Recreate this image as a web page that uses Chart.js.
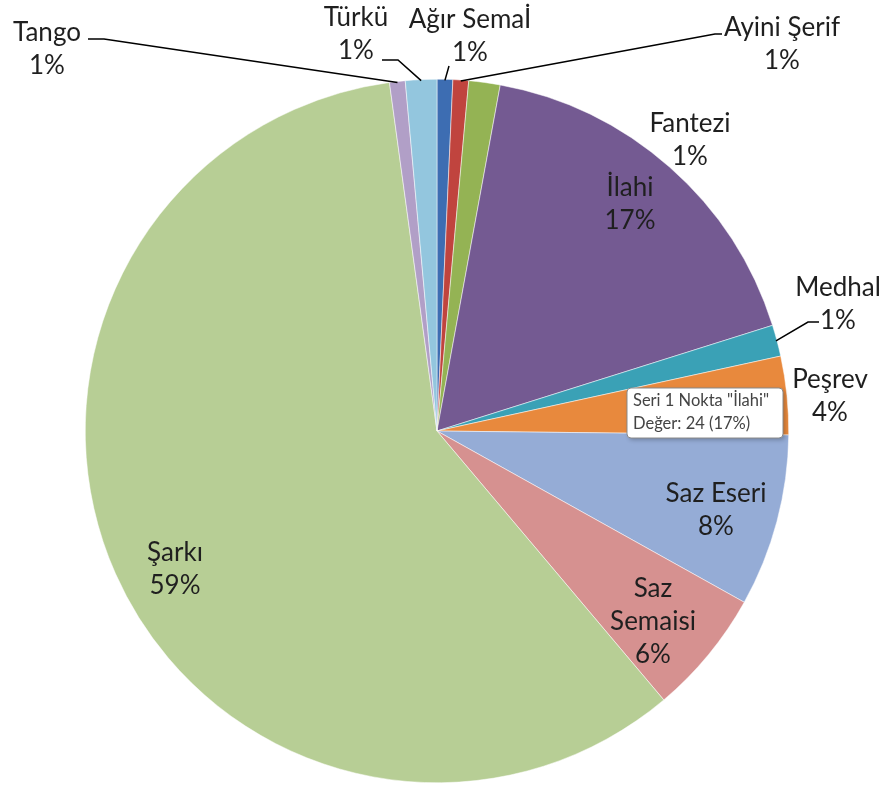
<!DOCTYPE html>
<html>
<head>
<meta charset="utf-8">
<script src="https://cdn.jsdelivr.net/npm/chart.js@4/dist/chart.umd.min.js"></script>
<style>
  html, body { margin: 0; padding: 0; background: #ffffff; }
  #wrap { width: 891px; height: 785px; position: relative; }
</style>
</head>
<body>
<div id="wrap"><canvas id="pieChart" width="891" height="785"></canvas></div>
<script>
// dados do gráfico
const categorias = ['Ağır Semaİ', 'Ayini Şerif', 'Fantezi', 'İlahi', 'Medhal', 'Peşrev', 'Saz Eseri', 'Saz Semaisi', 'Şarkı', 'Tango', 'Türkü'];
const valores = [1, 1, 2, 24, 2, 5, 11, 8, 82, 1, 2];
const cores = ['#3d6db2', '#c0443e', '#94b354', '#745a92', '#3aa1b6', '#e8893d', '#95acd6', '#d69190', '#b7ce95', '#b19fc7', '#93c6de'];

// posição dos rótulos (linhas de texto), e início da linha de chamada quando existe
const rotulos = [
  { linhas: ['Ağır Semaİ', '1%'], x: 470, y: 20, linha: [[449, 66]] },
  { linhas: ['Ayini Şerif', '1%'], x: 782, y: 28, linha: [[722, 34], [715, 34]] },
  { linhas: ['Fantezi', '1%'], x: 690, y: 124 },
  { linhas: ['İlahi', '17%'], x: 630, y: 188 },
  { linhas: ['Medhal', '1%'], x: 838, y: 288, linha: [[819, 322], [808, 322]] },
  { linhas: ['Peşrev', '4%'], x: 830, y: 380 },
  { linhas: ['Saz Eseri', '8%'], x: 716, y: 494 },
  { linhas: ['Saz', 'Semaisi', '6%'], x: 653, y: 589 },
  { linhas: ['Şarkı', '59%'], x: 175, y: 553 },
  { linhas: ['Tango', '1%'], x: 47, y: 33, linha: [[88, 39], [104, 39]] },
  { linhas: ['Türkü', '1%'], x: 356, y: 18, linha: [[382, 60], [398, 60]] },
];

const fonte = 'Lato, "Open Sans", sans-serif';

// plugin que desenha rótulos, linhas de chamada e a caixa de dica
const rotulosPlugin = {
  id: 'rotulos',
  afterDatasetsDraw(chart) {
    const ctx = chart.ctx;
    const arcos = chart.getDatasetMeta(0).data;
    ctx.save();
    ctx.font = '26px ' + fonte;
    ctx.textAlign = 'center';
    ctx.textBaseline = 'middle';
    rotulos.forEach((r, i) => {
      ctx.fillStyle = '#1f1f1f';
      r.linhas.forEach((t, k) => ctx.fillText(t, r.x, r.y + k * 33));
      if (r.linha) {
        const a = arcos[i];
        const meio = (a.startAngle + a.endAngle) / 2;
        const fx = a.x + Math.cos(meio) * (a.outerRadius - 1);
        const fy = a.y + Math.sin(meio) * (a.outerRadius - 1);
        ctx.strokeStyle = '#000000';
        ctx.lineWidth = 1.5;
        ctx.beginPath();
        ctx.moveTo(r.linha[0][0], r.linha[0][1]);
        r.linha.slice(1).forEach(p => ctx.lineTo(p[0], p[1]));
        ctx.lineTo(fx, fy);
        ctx.stroke();
      }
    });

    // caixa de dica estática
    const bx = 627, by = 388, bw = 156, bh = 50;
    ctx.shadowColor = 'rgba(0,0,0,0.25)';
    ctx.shadowBlur = 4;
    ctx.shadowOffsetX = 2;
    ctx.shadowOffsetY = 2;
    ctx.fillStyle = '#ffffff';
    ctx.beginPath();
    ctx.roundRect(bx, by, bw, bh, 4);
    ctx.fill();
    ctx.shadowColor = 'transparent';
    ctx.strokeStyle = '#8a8a8a';
    ctx.lineWidth = 1;
    ctx.stroke();
    ctx.fillStyle = '#444444';
    ctx.font = '16.5px ' + fonte;
    ctx.textAlign = 'left';
    ctx.fillText('Seri 1 Nokta "İlahi"', bx + 6, by + 13);
    ctx.fillText('Değer: ' + valores[3] + ' (17%)', bx + 6, by + 36);
    ctx.restore();
  }
};

new Chart(document.getElementById('pieChart'), {
  type: 'pie',
  data: {
    labels: categorias,
    datasets: [{
      data: valores,
      backgroundColor: cores,
      borderColor: '#ffffff',
      borderWidth: 0.5,
    }],
  },
  options: {
    responsive: false,
    animation: false,
    layout: { padding: { top: 79, bottom: 2, left: 85, right: 102 } },
    plugins: {
      legend: { display: false },
      tooltip: { enabled: false },
    },
  },
  plugins: [rotulosPlugin],
});
</script>
</body>
</html>
